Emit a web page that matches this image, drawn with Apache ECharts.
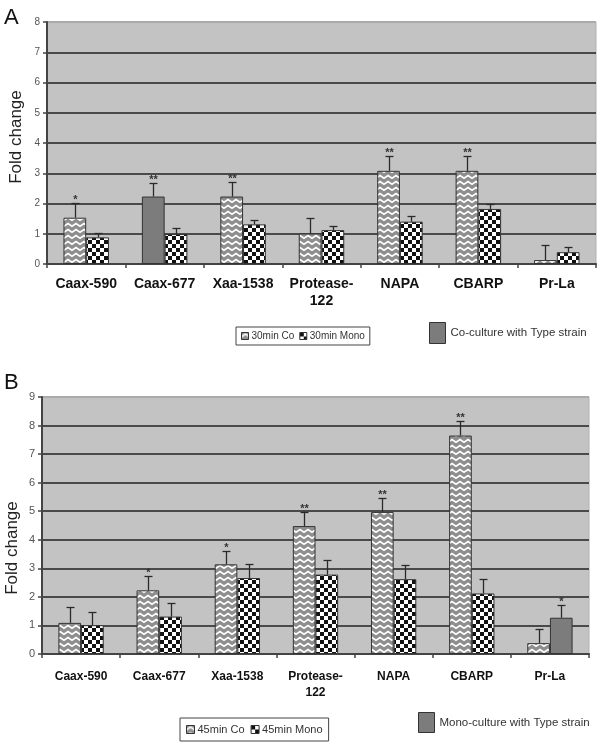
<!DOCTYPE html>
<html>
<head>
<meta charset="utf-8">
<script src="https://cdn.jsdelivr.net/npm/echarts@6/dist/echarts.min.js"></script>
<style>html,body{margin:0;padding:0;background:#fff;}#c{width:601px;height:750px;}</style>
</head>
<body>
<div id="c"></div>
<script>
// ---------- DATA ----------
const categories = ['Caax-590', 'Caax-677', 'Xaa-1538', 'Protease-\n122', 'NAPA', 'CBARP', 'Pr-La'];
const ticksA = [0, 1, 2, 3, 4, 5, 6, 7, 8];
const ticksB = [0, 1, 2, 3, 4, 5, 6, 7, 8, 9];

// Panel A (30 min)
const coA      = [1.53, 2.23, 2.23, 1.01, 3.08, 3.08, 0.13];
const coAErr   = [0.50, 0.44, 0.47, 0.50, 0.50, 0.50, 0.50];
const coAStars = ['*', '**', '**', '', '**', '**', ''];
const monoA      = [0.88, 0.99, 1.31, 1.12, 1.40, 1.82, 0.39];
const monoAErr   = [0.15, 0.19, 0.14, 0.14, 0.19, 0.16, 0.18];
const monoAStars = ['', '', '', '', '', '', ''];
const typeStrainA = [false, true, false, false, false, false, false]; // co-culture with type strain (co series)

// Panel B (45 min)
const coB      = [1.09, 2.23, 3.14, 4.48, 4.97, 7.65, 0.38];
const coBErr   = [0.54, 0.49, 0.47, 0.49, 0.49, 0.52, 0.49];
const coBStars = ['', '*', '*', '**', '**', '**', ''];
const monoB      = [1.01, 1.31, 2.66, 2.78, 2.62, 2.12, 1.27];
const monoBErr   = [0.47, 0.49, 0.50, 0.50, 0.49, 0.50, 0.46];
const monoBStars = ['', '', '', '', '', '', '*'];
const typeStrainB = [false, false, false, false, false, false, true]; // mono-culture with type strain (mono series)

// ---------- STYLE HELPERS ----------
const FONT = 'Liberation Sans, Arial, sans-serif';
const SOLID = '#7c7c7c';
const BARFRAC = 0.29;

function zigzag() {
  const c = document.createElement('canvas');
  c.width = 8; c.height = 6;
  const g = c.getContext('2d');
  g.fillStyle = '#8e8e8e'; g.fillRect(0, 0, 8, 6);
  g.strokeStyle = '#ffffff'; g.lineWidth = 1.7;
  g.beginPath(); g.moveTo(-1, 5); g.lineTo(4, 1.5); g.lineTo(9, 5); g.stroke();
  return {image: c, repeat: 'repeat'};
}
function checker() {
  const c = document.createElement('canvas');
  c.width = 8; c.height = 8;
  const g = c.getContext('2d');
  g.fillStyle = '#ffffff'; g.fillRect(0, 0, 8, 8);
  g.fillStyle = '#111111';
  g.fillRect(0, 0, 4, 4); g.fillRect(4, 4, 4, 4);
  return {image: c, repeat: 'repeat'};
}
const ZIG = zigzag(), CHK = checker();

function barData(vals, flags) {
  return vals.map((v, i) => flags[i] ? {value: v, itemStyle: {color: SOLID}} : v);
}
function errSeries(vals, errs, stars, side, axis) {
  return {
    type: 'custom', xAxisIndex: axis, yAxisIndex: axis, z: 10, silent: true,
    data: vals.map((v, i) => [i, v, errs[i]]),
    encode: {x: 0, y: 1},
    renderItem: function (params, api) {
      const i = api.value(0), v = api.value(1), e = api.value(2);
      const bw = api.size([1, 0])[0] * BARFRAC;
      const p0 = api.coord([i, v]);
      const p1 = api.coord([i, v + e]);
      const x = Math.round(p0[0] + side * bw / 2) + 0.5;
      const y1 = Math.round(p1[1]) + 0.5;
      const ls = {stroke: '#2a2a2a', lineWidth: 1.3};
      const children = [
        {type: 'line', shape: {x1: x, y1: p0[1], x2: x, y2: y1}, style: ls},
        {type: 'line', shape: {x1: x - 4, y1: y1, x2: x + 4, y2: y1}, style: ls}
      ];
      const s = stars[params.dataIndex];
      if (s) {
        children.push({type: 'text', style: {text: s, x: x, y: y1 + 2, textAlign: 'center',
          textVerticalAlign: 'bottom', font: 'bold 11px ' + FONT, fill: '#333'}});
      }
      return {type: 'group', children: children};
    }
  };
}
function yAxis(gi, max, ticks, fs) {
  const cols = ticks.map((t, k) => k === ticks.length - 1 ? '#ababab' : '#4a4a4a');
  return {
    type: 'value', gridIndex: gi, min: 0, max: max, interval: 1,
    axisLine: {show: true, lineStyle: {color: '#444', width: 2}},
    axisTick: {show: true, length: 4, lineStyle: {color: '#444', width: 1.5}},
    axisLabel: {color: '#555', fontSize: fs, fontFamily: FONT, margin: 7,
      formatter: v => ticks.indexOf(v) >= 0 ? String(v) : ''},
    splitLine: {show: true, lineStyle: {color: cols, width: 2}}
  };
}
function xAxis(gi, fs, margin, lh) {
  return {
    type: 'category', gridIndex: gi, data: categories,
    axisLine: {lineStyle: {color: '#444', width: 2}},
    axisTick: {show: true, length: 4, alignWithLabel: false, lineStyle: {color: '#444', width: 1.5}},
    axisLabel: {color: '#111', fontWeight: 'bold', fontSize: fs, fontFamily: FONT, margin: margin,
      lineHeight: lh, interval: 0}
  };
}
const barStyle = {borderColor: '#333', borderWidth: 1};

const chart = echarts.init(document.getElementById('c'), null, {renderer: 'canvas'});
chart.setOption({
  animation: false,
  backgroundColor: '#ffffff',
  textStyle: {fontFamily: FONT},
  grid: [
    {left: 47, right: 5, top: 22, bottom: 486, show: true, backgroundColor: '#c3c3c3', borderColor: '#b0b0b0', borderWidth: 1},
    {left: 42, right: 12, top: 397, bottom: 96, show: true, backgroundColor: '#c3c3c3', borderColor: '#b0b0b0', borderWidth: 1}
  ],
  xAxis: [xAxis(0, 14, 12, 17), xAxis(1, 12, 15, 16)],
  yAxis: [yAxis(0, 8, ticksA, 10), yAxis(1, 9, ticksB, 11)],
  legend: [
    {data: ['30min Co', '30min Mono'], left: 236, top: 327, orient: 'horizontal',
      padding: [4, 5, 4, 5], borderColor: '#444', borderWidth: 1, itemWidth: 7, itemHeight: 7, itemGap: 5,
      icon: 'rect', itemStyle: {borderColor: '#333', borderWidth: 1},
      textStyle: {fontSize: 10, color: '#333', fontFamily: FONT, padding: [0, 0, 0, -2]}},
    {data: ['Co-culture with Type strain'], left: 429, top: 322, padding: 0, itemWidth: 16, itemHeight: 21,
      icon: 'rect', itemStyle: {borderColor: '#333', borderWidth: 1},
      textStyle: {fontSize: 11.5, color: '#333', fontFamily: FONT}},
    {data: ['45min Co', '45min Mono'], left: 180, top: 718, orient: 'horizontal',
      padding: [6, 6, 6, 6], borderColor: '#444', borderWidth: 1, itemWidth: 8, itemHeight: 8, itemGap: 6,
      icon: 'rect', itemStyle: {borderColor: '#333', borderWidth: 1},
      textStyle: {fontSize: 11, color: '#333', fontFamily: FONT, padding: [0, 0, 0, -2]}},
    {data: ['Mono-culture with Type strain'], left: 418, top: 712, padding: 0, itemWidth: 16, itemHeight: 20,
      icon: 'rect', itemStyle: {borderColor: '#333', borderWidth: 1},
      textStyle: {fontSize: 11.5, color: '#333', fontFamily: FONT}}
  ],
  graphic: [
    {type: 'text', left: 4, top: 7, style: {text: 'A', font: '22px ' + FONT, fill: '#111'}},
    {type: 'text', left: 4, top: 372, style: {text: 'B', font: '22px ' + FONT, fill: '#111'}},
    {type: 'text', x: 8, y: 137, rotation: Math.PI / 2,
      style: {text: 'Fold change', font: '17px ' + FONT, fill: '#222', textAlign: 'center', textVerticalAlign: 'top'}},
    {type: 'text', x: 4, y: 548, rotation: Math.PI / 2,
      style: {text: 'Fold change', font: '17px ' + FONT, fill: '#222', textAlign: 'center', textVerticalAlign: 'top'}}
  ],
  series: [
    {name: '30min Co', type: 'bar', xAxisIndex: 0, yAxisIndex: 0, barWidth: (BARFRAC * 100) + '%', barGap: '0%',
      itemStyle: Object.assign({color: ZIG}, barStyle), data: barData(coA, typeStrainA)},
    {name: '30min Mono', type: 'bar', xAxisIndex: 0, yAxisIndex: 0, barWidth: (BARFRAC * 100) + '%', barGap: '0%',
      itemStyle: Object.assign({color: CHK}, barStyle), data: monoA},
    {name: 'Co-culture with Type strain', type: 'bar', xAxisIndex: 0, yAxisIndex: 0, data: [],
      itemStyle: {color: SOLID}},
    errSeries(coA, coAErr, coAStars, -1, 0),
    errSeries(monoA, monoAErr, monoAStars, 1, 0),
    {name: '45min Co', type: 'bar', xAxisIndex: 1, yAxisIndex: 1, barWidth: (BARFRAC * 100) + '%', barGap: '0%',
      itemStyle: Object.assign({color: ZIG}, barStyle), data: coB},
    {name: '45min Mono', type: 'bar', xAxisIndex: 1, yAxisIndex: 1, barWidth: (BARFRAC * 100) + '%', barGap: '0%',
      itemStyle: Object.assign({color: CHK}, barStyle), data: barData(monoB, typeStrainB)},
    {name: 'Mono-culture with Type strain', type: 'bar', xAxisIndex: 1, yAxisIndex: 1, data: [],
      itemStyle: {color: SOLID}},
    errSeries(coB, coBErr, coBStars, -1, 1),
    errSeries(monoB, monoBErr, monoBStars, 1, 1)
  ]
});
</script>
</body>
</html>
